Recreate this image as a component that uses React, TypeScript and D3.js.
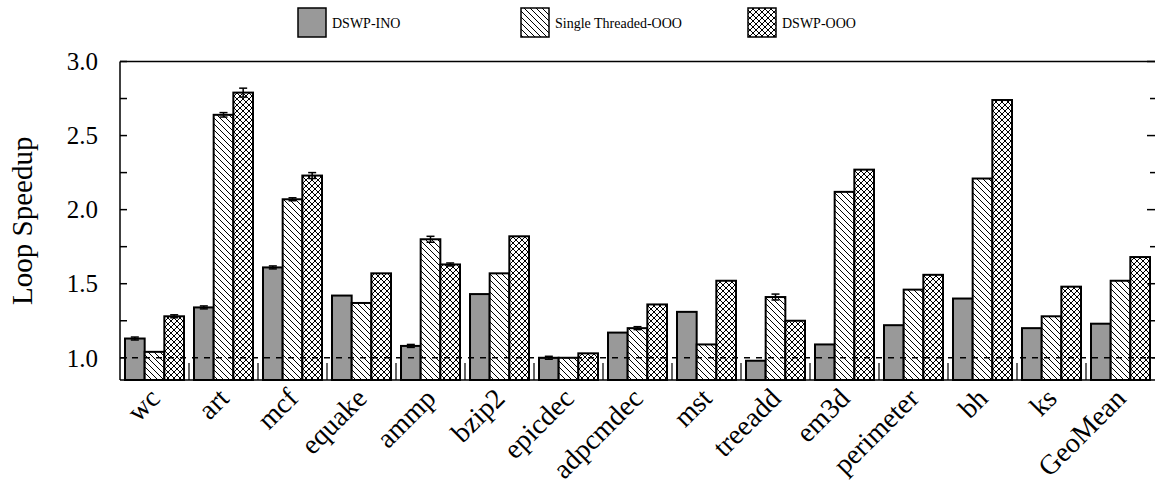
import React from "react";
import * as d3 from "d3";

const categories = ["wc", "art", "mcf", "equake", "ammp", "bzip2", "epicdec", "adpcmdec", "mst", "treeadd", "em3d", "perimeter", "bh", "ks", "GeoMean"];
const seriesNames = ["DSWP-INO", "Single Threaded-OOO", "DSWP-OOO"];

const dswpIno = [1.13, 1.34, 1.61, 1.42, 1.08, 1.43, 1.0, 1.17, 1.31, 0.98, 1.09, 1.22, 1.4, 1.2, 1.23];
const singleOoo = [1.04, 2.64, 2.07, 1.37, 1.8, 1.57, 1.0, 1.2, 1.09, 1.41, 2.12, 1.46, 2.21, 1.28, 1.52];
const dswpOoo = [1.28, 2.79, 2.23, 1.57, 1.63, 1.82, 1.03, 1.36, 1.52, 1.25, 2.27, 1.56, 2.74, 1.48, 1.68];

const dswpInoErr = [0.01, 0.01, 0.01, 0, 0.01, 0, 0.01, 0, 0, 0, 0, 0, 0, 0, 0];
const singleOooErr = [0, 0.015, 0.01, 0, 0.02, 0, 0, 0.01, 0, 0.02, 0, 0, 0, 0, 0];
const dswpOooErr = [0.01, 0.03, 0.02, 0, 0.01, 0, 0, 0, 0, 0, 0, 0, 0, 0, 0];

const yTicks = [1.0, 1.5, 2.0, 2.5, 3.0];
const yMinorTicks = [1.25, 1.75, 2.25, 2.75];

const W = 1155;
const H = 496;
const left = 120;
const right = 1155;
const top = 61.5;
const bottom = 380;
const serif = "'Liberation Serif', 'DejaVu Serif', serif";

export default function App() {
  const x = d3.scaleBand<string>().domain(categories).range([left, right]).padding(0);
  const bw = x.bandwidth();
  const inner = d3.scaleBand<string>().domain(seriesNames).range([5, bw - 5]).padding(0);
  const y = d3.scaleLinear().domain([0.85, 3.0]).range([bottom, top]);

  const series = [
    { name: seriesNames[0], values: dswpIno, errs: dswpInoErr, fill: "#999999" },
    { name: seriesNames[1], values: singleOoo, errs: singleOooErr, fill: "url(#hatch)" },
    { name: seriesNames[2], values: dswpOoo, errs: dswpOooErr, fill: "url(#cross)" },
  ];

  const legendX = [298, 521, 748];

  return (
    <svg width={W} height={H} style={{ position: "absolute", left: 0, top: 0, background: "#fff" }}>
      <defs>
        <pattern id="hatch" patternUnits="userSpaceOnUse" width={6} height={6}>
          <rect width={6} height={6} fill="#fff" />
          <path d="M-1,-1 L7,7 M-1,5 L1,7 M5,-1 L7,1" stroke="#000" strokeWidth={1} />
        </pattern>
        <pattern id="cross" patternUnits="userSpaceOnUse" width={6} height={6}>
          <rect width={6} height={6} fill="#fff" />
          <path d="M-1,-1 L7,7 M-1,5 L1,7 M5,-1 L7,1 M-1,7 L7,-1 M-1,1 L1,-1 M5,7 L7,5" stroke="#000" strokeWidth={1} />
        </pattern>
      </defs>

      {/* legend */}
      {series.map((s, i) => (
        <g key={s.name}>
          <rect x={legendX[i]} y={8} width={28} height={29} fill={s.fill} stroke="#000" strokeWidth={1.5} />
          <text x={legendX[i] + 34} y={28} fontFamily={serif} fontSize={14}>{s.name}</text>
        </g>
      ))}

      {/* bars */}
      {series.map((s) => (
        <g key={s.name}>
          {categories.map((c, i) => {
            const bx = (x(c) ?? 0) + (inner(s.name) ?? 0);
            const v = s.values[i];
            return (
              <rect key={c} x={bx} y={y(v)} width={inner.bandwidth()} height={bottom - y(v)} fill={s.fill} stroke="#000" strokeWidth={2} />
            );
          })}
        </g>
      ))}

      {/* error bars */}
      {series.map((s) => (
        <g key={s.name + "-err"} stroke="#000" strokeWidth={1.5}>
          {categories.map((c, i) => {
            const cx = (x(c) ?? 0) + (inner(s.name) ?? 0) + inner.bandwidth() / 2;
            const v = s.values[i];
            const e = s.errs[i];
            if (e === 0) return null;
            return (
              <g key={c}>
                <line x1={cx} x2={cx} y1={y(v - e)} y2={y(v + e)} />
                <line x1={cx - 4} x2={cx + 4} y1={y(v + e)} y2={y(v + e)} />
                <line x1={cx - 4} x2={cx + 4} y1={y(v - e)} y2={y(v - e)} />
              </g>
            );
          })}
        </g>
      ))}

      {/* reference line at 1.0 */}
      <line x1={left} x2={right} y1={y(1)} y2={y(1)} stroke="#000" strokeWidth={1.5} strokeDasharray="6,6" />

      {/* group separators */}
      {categories.slice(1).map((c) => (
        <line key={c} x1={x(c)} x2={x(c)} y1={bottom - 17} y2={bottom} stroke="#000" strokeWidth={1.2} />
      ))}

      {/* frame */}
      <line x1={left} x2={right} y1={top} y2={top} stroke="#000" strokeWidth={1.5} />
      <line x1={left} x2={right} y1={bottom} y2={bottom} stroke="#000" strokeWidth={1.5} />
      <line x1={left} x2={left} y1={top} y2={bottom} stroke="#000" strokeWidth={1.5} />

      {/* y ticks */}
      {[...yTicks, ...yMinorTicks].map((t) => (
        <g key={t} stroke="#000" strokeWidth={1.5}>
          <line x1={left} x2={left + 7} y1={y(t)} y2={y(t)} />
          <line x1={right} x2={right - (yTicks.includes(t) ? 8 : 5)} y1={y(t)} y2={y(t)} />
        </g>
      ))}
      {yTicks.map((t) => (
        <text key={t} x={98} y={y(t)} dy="0.35em" textAnchor="end" fontFamily={serif} fontSize={25}>
          {d3.format(".1f")(t)}
        </text>
      ))}

      <text transform={`translate(32,${(top + bottom) / 2}) rotate(-90)`} textAnchor="middle" fontFamily={serif} fontSize={29}>
        Loop Speedup
      </text>

      {/* x labels */}
      {categories.map((c) => (
        <text
          key={c}
          transform={`translate(${(x(c) ?? 0) + bw / 2 + 7},${400}) rotate(-45)`}
          textAnchor="end"
          fontFamily={serif}
          fontSize={28}
        >
          {c}
        </text>
      ))}
    </svg>
  );
}
